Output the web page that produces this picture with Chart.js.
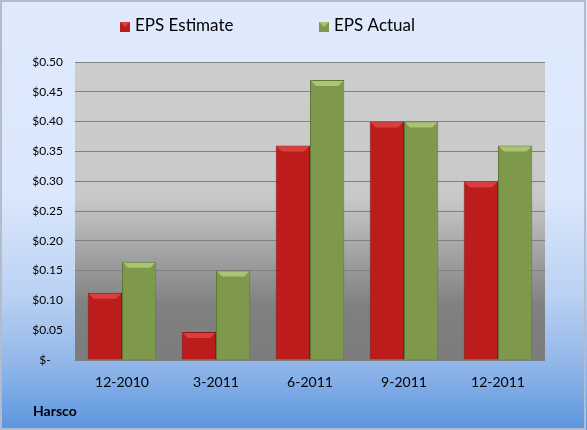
<!DOCTYPE html>
<html>
<head>
<meta charset="utf-8">
<script src="https://cdn.jsdelivr.net/npm/chart.js@4/dist/chart.umd.min.js"></script>
<style>
  html, body { margin: 0; padding: 0; background: #fff; }
  #chart { display: block; }
</style>
</head>
<body>
<canvas id="chart" width="587" height="430"></canvas>
<script>
// --- data ---
const categories = ['12-2010', '3-2011', '6-2011', '9-2011', '12-2011'];
const epsEstimate = [0.113, 0.047, 0.36, 0.40, 0.30];
const epsActual = [0.165, 0.15, 0.47, 0.40, 0.36];
const yTickLabels = ['$-\u00a0\u00a0\u00a0\u00a0', '$0.05', '$0.10', '$0.15', '$0.20', '$0.25',
    '$0.30', '$0.35', '$0.40', '$0.45', '$0.50'];
const seriesNames = ['EPS Estimate', 'EPS Actual'];
const companyName = 'Harsco';

const FONT = 'Lato, "Liberation Sans", sans-serif';
const red = '#bd1c1c', green = '#7e994b';
const bevelColors = ['#d84040', '#a9c472'];

// backgrounds: blue page gradient + gray plot gradient, plus outer border
const backgroundPlugin = {
    id: 'bgPanels',
    beforeDraw(chart) {
        const { ctx, width, height, chartArea: a } = chart;
        ctx.save();
        let g = ctx.createLinearGradient(0, 0, 0, height);
        g.addColorStop(0, '#dfeafd');
        g.addColorStop(0.45, '#dbe7fc');
        g.addColorStop(0.68, '#bcd2f3');
        g.addColorStop(0.85, '#90b6e9');
        g.addColorStop(1, '#5b96df');
        ctx.fillStyle = g;
        ctx.fillRect(0, 0, width, height);
        ctx.strokeStyle = '#b4bccb';
        ctx.lineWidth = 2;
        ctx.strokeRect(1, 1, width - 3, height - 2);

        g = ctx.createLinearGradient(0, a.top, 0, a.bottom);
        g.addColorStop(0, '#cdcdcd');
        g.addColorStop(0.45, '#c9c9c9');
        g.addColorStop(0.82, '#808080');
        g.addColorStop(1, '#7c7c7c');
        ctx.fillStyle = g;
        ctx.fillRect(a.left, a.top, a.right - a.left, a.bottom - a.top);
        ctx.restore();
    }
};

// soft bevel on top of each bar, using the library's bar elements
const bevelPlugin = {
    id: 'bevel',
    afterDatasetsDraw(chart) {
        const { ctx } = chart;
        ctx.save();
        chart.data.datasets.forEach((ds, i) => {
            chart.getDatasetMeta(i).data.forEach((bar) => {
                const l = bar.x - bar.width / 2 + 1, r = bar.x + bar.width / 2 - 1, t = bar.y + 1, d = 5;
                ctx.fillStyle = bevelColors[i];
                ctx.beginPath();
                ctx.moveTo(l, t);
                ctx.lineTo(r, t);
                ctx.lineTo(r - d, t + d);
                ctx.lineTo(l + d, t + d);
                ctx.closePath();
                ctx.fill();
            });
        });
        ctx.restore();
    }
};

// legend and company label
const labelsPlugin = {
    id: 'labels',
    afterDraw(chart) {
        const { ctx } = chart;
        ctx.save();
        const itemX = [120, 319];
        chart.data.datasets.forEach((ds, i) => {
            const x = itemX[i];
            ctx.fillStyle = ds.backgroundColor;
            ctx.fillRect(x, 22, 10, 10);
            ctx.fillStyle = bevelColors[i];
            ctx.beginPath();
            ctx.moveTo(x, 22); ctx.lineTo(x + 10, 22); ctx.lineTo(x + 5, 27); ctx.closePath();
            ctx.fill();
            ctx.fillStyle = '#000';
            ctx.font = '17px ' + FONT;
            ctx.textBaseline = 'middle';
            ctx.textAlign = 'left';
            ctx.fillText(ds.label, x + 15, 26);
        });
        ctx.font = 'bold 14px ' + FONT;
        ctx.fillStyle = '#000';
        ctx.textBaseline = 'middle';
        ctx.fillText(companyName, 33, 411);
        ctx.restore();
    }
};

new Chart(document.getElementById('chart'), {
    type: 'bar',
    data: {
        labels: categories,
        datasets: [
            { label: seriesNames[0], data: epsEstimate, backgroundColor: red, borderColor: '#8f1515', borderWidth: 1 },
            { label: seriesNames[1], data: epsActual, backgroundColor: green, borderColor: '#61773a', borderWidth: 1 }
        ]
    },
    options: {
        responsive: false,
        devicePixelRatio: 1,
        animation: false,
        layout: { padding: { top: 62, right: 42, left: 0, bottom: 0 } },
        datasets: { bar: { categoryPercentage: 0.73, barPercentage: 1.0 } },
        plugins: {
            legend: { display: false },
            tooltip: { enabled: false }
        },
        scales: {
            x: {
                grid: { display: false, drawTicks: false },
                border: { display: false },
                ticks: { color: '#000', font: { family: FONT, size: 14 }, padding: 14 },
                afterFit(scale) { scale.height = 70; }
            },
            y: {
                min: 0,
                max: 0.5,
                grid: { color: '#808080', lineWidth: 1, drawTicks: false },
                border: { display: false },
                ticks: {
                    stepSize: 0.05,
                    color: '#000',
                    font: { family: FONT, size: 12 },
                    padding: 12,
                    callback: (v, i) => yTickLabels[i]
                },
                afterFit(scale) { scale.width = 75; }
            }
        }
    },
    plugins: [backgroundPlugin, bevelPlugin, labelsPlugin]
});
</script>
</body>
</html>
